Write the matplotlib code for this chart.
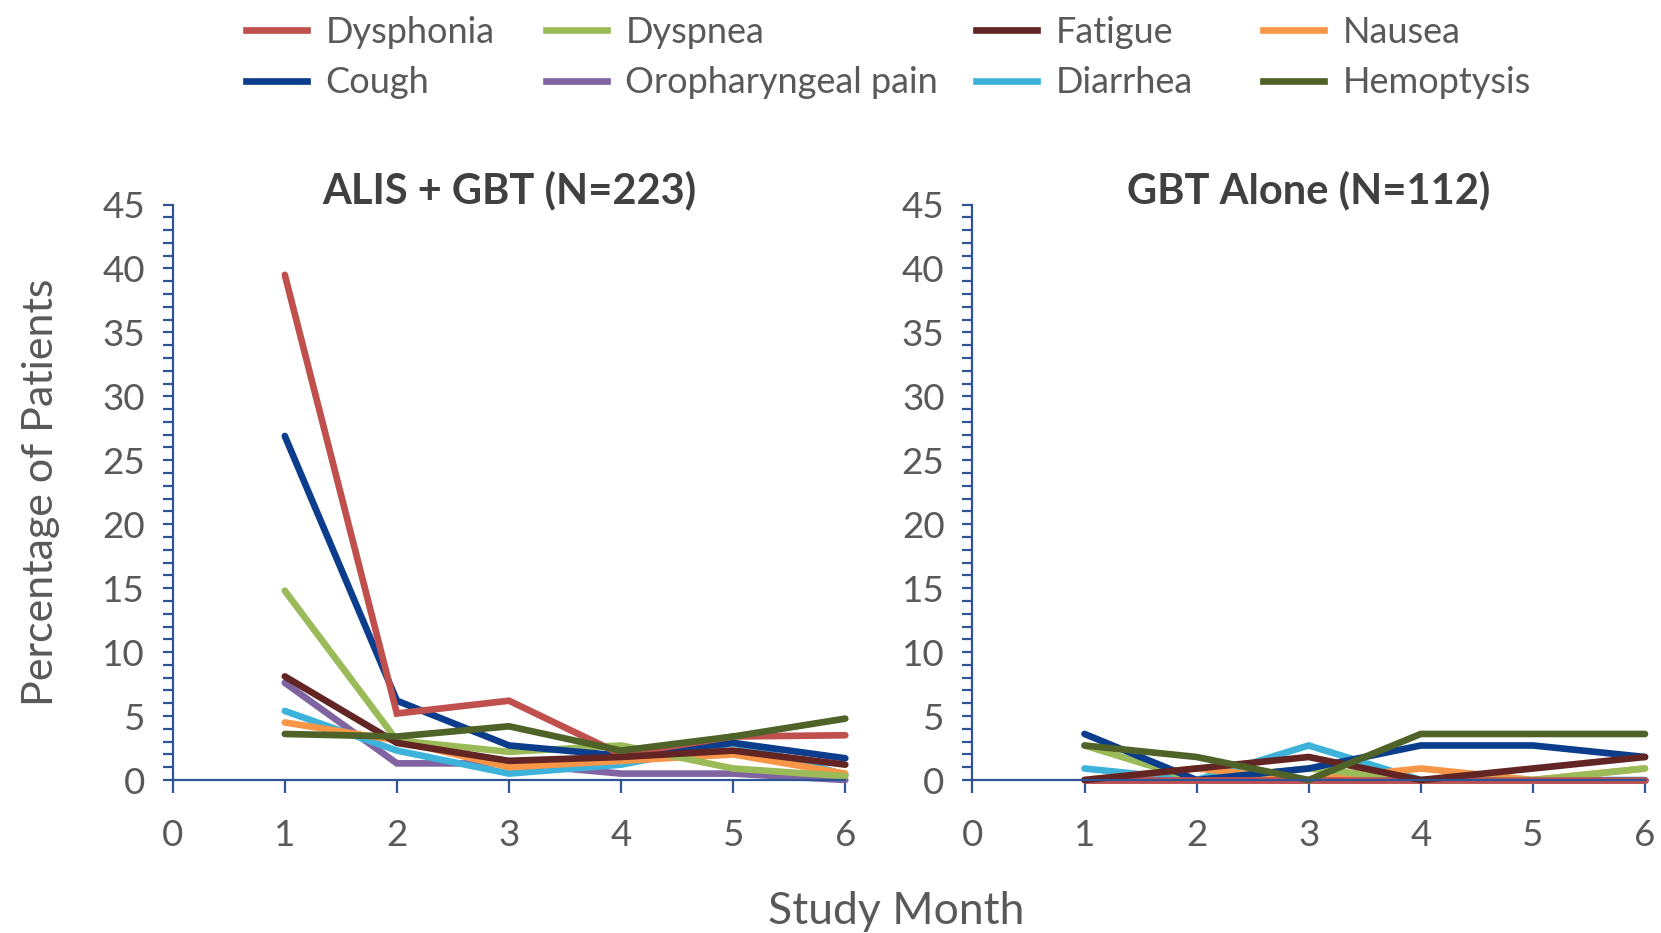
import matplotlib
matplotlib.use("Agg")
import matplotlib.pyplot as plt
from matplotlib.ticker import MultipleLocator
from matplotlib.lines import Line2D

plt.rcParams['font.family'] = ['Lato', 'DejaVu Sans']

months = [1, 2, 3, 4, 5, 6]
series_names = ["Dysphonia", "Cough", "Dyspnea", "Oropharyngeal pain",
                "Fatigue", "Diarrhea", "Nausea", "Hemoptysis"]

# ALIS + GBT (N=223)
alis_dysphonia = [39.5, 5.2, 6.2, 2.0, 3.4, 3.5]
alis_cough = [26.9, 6.2, 2.7, 1.9, 2.9, 1.7]
alis_dyspnea = [14.8, 3.1, 2.2, 2.7, 0.9, 0.3]
alis_oropharyngeal = [7.6, 1.3, 1.3, 0.5, 0.5, 0.0]
alis_fatigue = [8.1, 2.9, 1.5, 1.8, 2.3, 1.2]
alis_diarrhea = [5.4, 2.3, 0.5, 1.2, 2.9, 0.4]
alis_nausea = [4.5, 3.1, 1.0, 1.5, 2.0, 0.5]
alis_hemoptysis = [3.6, 3.4, 4.2, 2.3, 3.4, 4.8]

# GBT Alone (N=112)
gbt_dysphonia = [0.0, 0.0, 0.0, 0.0, 0.0, 0.0]
gbt_cough = [3.6, 0.0, 0.9, 2.7, 2.7, 1.8]
gbt_dyspnea = [2.7, 0.0, 0.9, 0.0, 0.0, 0.9]
gbt_oropharyngeal = [0.0, 0.0, 0.0, 0.0, 0.0, 0.0]
gbt_fatigue = [0.0, 0.9, 1.8, 0.0, 0.9, 1.8]
gbt_diarrhea = [0.9, 0.0, 2.7, 0.0, 0.0, 0.0]
gbt_nausea = [0.0, 0.9, 0.0, 0.9, 0.0, 0.9]
gbt_hemoptysis = [2.7, 1.8, 0.0, 3.6, 3.6, 3.6]

colors = {
    "Dysphonia": "#C0504D",
    "Cough": "#0B3D8C",
    "Dyspnea": "#9BBB59",
    "Oropharyngeal pain": "#8064A2",
    "Fatigue": "#632523",
    "Diarrhea": "#3DB3DC",
    "Nausea": "#F79646",
    "Hemoptysis": "#4F6228",
}

# drawing order (back to front)
draw_order = ["Oropharyngeal pain", "Diarrhea", "Nausea", "Dyspnea",
              "Cough", "Dysphonia", "Fatigue", "Hemoptysis"]

alis = dict(zip(series_names, [alis_dysphonia, alis_cough, alis_dyspnea, alis_oropharyngeal,
                               alis_fatigue, alis_diarrhea, alis_nausea, alis_hemoptysis]))
gbt = dict(zip(series_names, [gbt_dysphonia, gbt_cough, gbt_dyspnea, gbt_oropharyngeal,
                              gbt_fatigue, gbt_diarrhea, gbt_nausea, gbt_hemoptysis]))

W, H = 1661, 933
fig = plt.figure(figsize=(W / 100, H / 100), dpi=100)

axis_col = "#2F5496"
text_col = "#595959"
title_col = "#404040"

def make_ax(left_px, title, data):
    ax = fig.add_axes([left_px / W, 1 - 780 / H, 672.6 / W, (780 - 204.5) / H])
    for name in draw_order:
        ax.plot(months, data[name], color=colors[name], lw=4.8,
                solid_capstyle='round', solid_joinstyle='miter', clip_on=False)
    ax.set_xlim(0, 6)
    ax.set_ylim(0, 45)
    ax.xaxis.set_major_locator(MultipleLocator(1))
    ax.yaxis.set_major_locator(MultipleLocator(5))
    ax.yaxis.set_minor_locator(MultipleLocator(1))
    for s in ["top", "right"]:
        ax.spines[s].set_visible(False)
    for s in ["left", "bottom"]:
        ax.spines[s].set_color(axis_col)
        ax.spines[s].set_linewidth(1.6)
    ax.tick_params(axis='both', which='both', color=axis_col, width=1.6,
                   labelcolor=text_col, labelsize=26.5)
    ax.tick_params(axis='y', which='both', length=7, pad=13)
    ax.tick_params(axis='x', which='major', length=9, pad=19)
    ax.set_title(title, fontsize=30, fontweight='bold', color=title_col, y=1.0, pad=1)
    return ax

ax1 = make_ax(172.7, "ALIS + GBT (N=223)", alis)
ax2 = make_ax(972.4, "GBT Alone (N=112)", gbt)

ax1.set_ylabel("Percentage of Patients", fontsize=31, color=text_col, labelpad=30)
fig.text(896 / W, 1 - 912 / H, "Study Month", fontsize=32, color=text_col,
         ha='center', va='center')

# legend: four columns placed as in the original
legend_columns = [["Dysphonia", "Cough"], ["Dyspnea", "Oropharyngeal pain"],
                  ["Fatigue", "Diarrhea"], ["Nausea", "Hemoptysis"]]
legend_x_px = [246, 546, 976, 1263]
for names, xpx in zip(legend_columns, legend_x_px):
    hs = [Line2D([0], [0], color=colors[n], lw=4.8) for n in names]
    fig.legend(hs, names, loc='upper left', bbox_to_anchor=(xpx / W, 1 - 16 / H),
               frameon=False, fontsize=26, labelcolor=text_col,
               handlelength=1.7, handletextpad=0.5, labelspacing=0.48,
               borderpad=0, borderaxespad=0)

fig.savefig("out.png", dpi=100)
